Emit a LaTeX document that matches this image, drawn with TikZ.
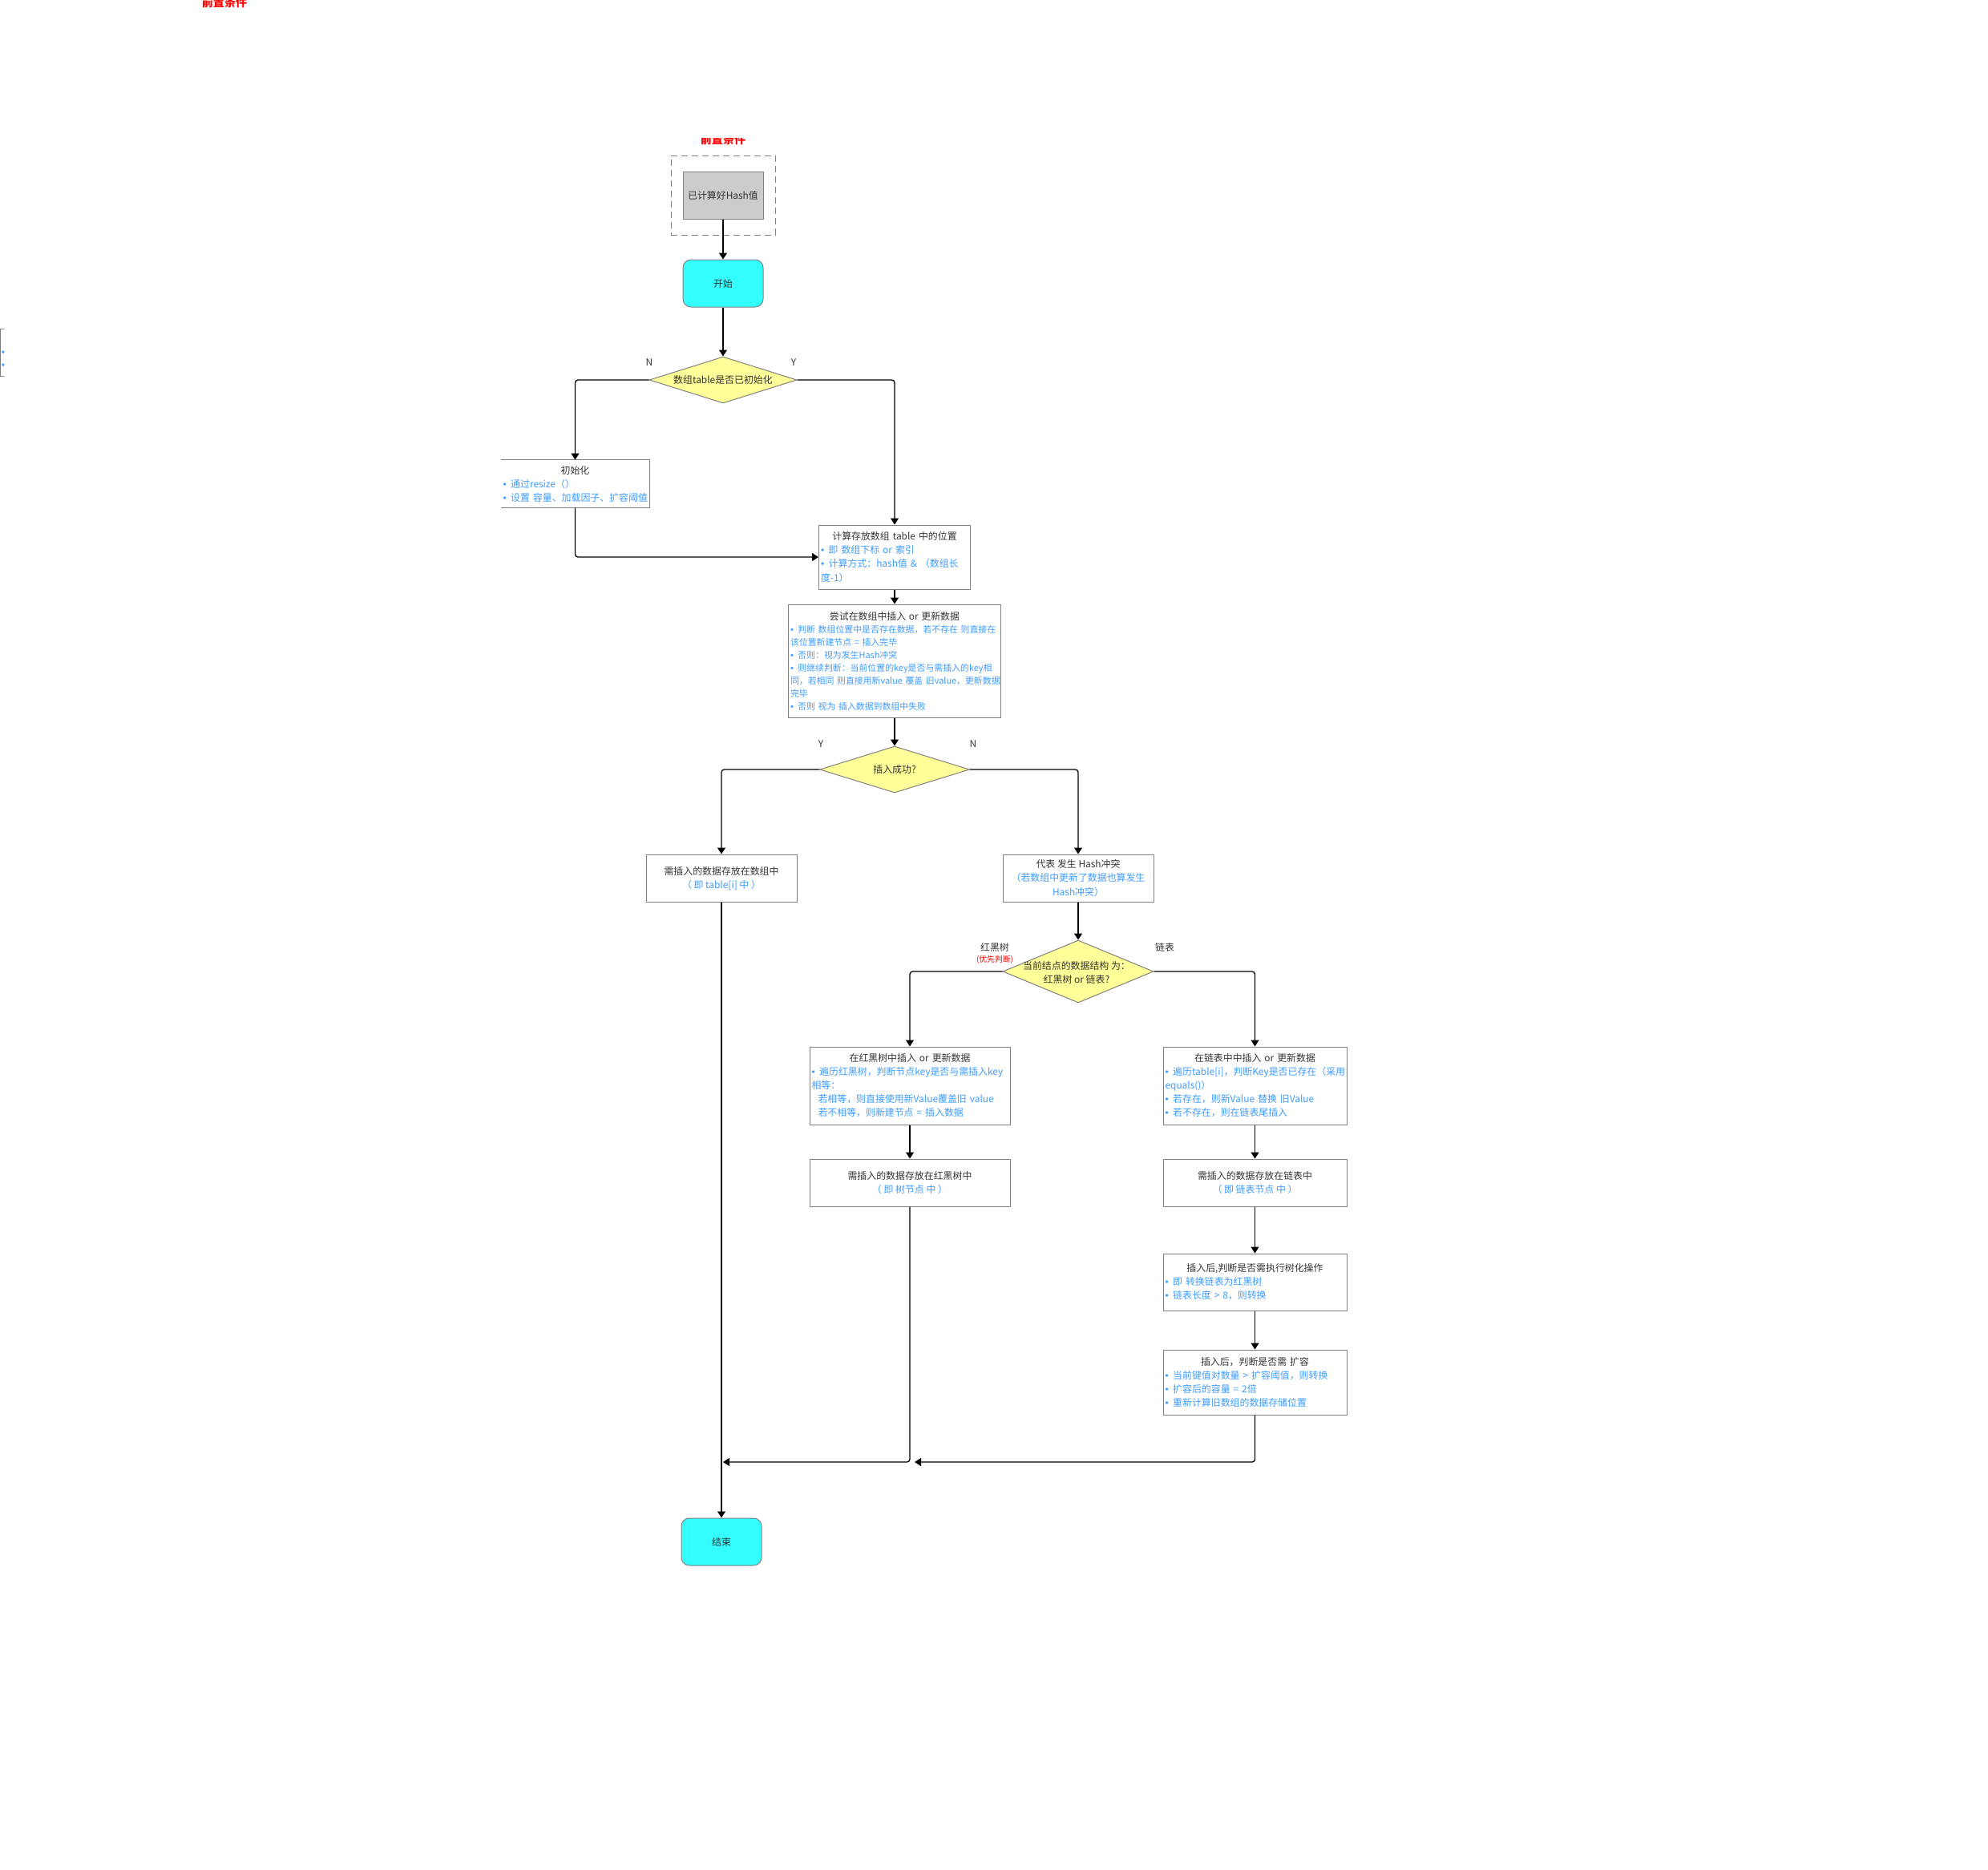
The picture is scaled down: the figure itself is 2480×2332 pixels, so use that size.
\documentclass[tikz,border=0pt]{standalone}
\usepackage{fontspec}
\setmainfont{Noto Sans CJK SC}
\newfontfamily\bulfont{Liberation Sans}
\usetikzlibrary{arrows.meta,shapes.geometric}

\definecolor{linegray}{HTML}{808080}
\definecolor{txtdark}{HTML}{333333}
\definecolor{txtblue}{HTML}{3D9BFF}
\definecolor{decfill}{HTML}{FFFF99}
\definecolor{termfill}{HTML}{33FFFF}
\definecolor{prefill}{HTML}{CCCCCC}
\definecolor{notered}{HTML}{FF0000}

% text sizes (1 unit of the drawing = 0.1 mm)
\newcommand\fsnorm{\fontsize{3.39pt}{4.84pt}\selectfont}
\newcommand\fssmall{\fontsize{3.1pt}{4.55pt}\selectfont}
% a blue bullet line and a blue continuation line, both flush left
\newcommand\bul[1]{\makebox[\hsize][l]{\textcolor{txtblue}{{\bulfont •}\hspace{0.55mm}#1}}}
\newcommand\cont[1]{\makebox[\hsize][l]{\textcolor{txtblue}{#1}}}

\begin{document}
\begin{tikzpicture}[x=0.1mm, y=-0.1mm,
  every node/.style={font=\fsnorm, text=txtdark},
  flow/.style={draw=black, line width=0.13mm, rounded corners=0.35mm,
    -{Triangle[length=0.8mm,width=1mm]}},
  procbox/.style={rectangle, draw=linegray, line width=0.1mm,
    inner xsep=0.25mm, inner ysep=0mm, align=center},
  term/.style={rectangle, rounded corners=1mm, draw=linegray, line width=0.1mm,
    fill=termfill, minimum width=10mm, minimum height=5.9mm, inner sep=0},
  decision/.style={diamond, draw=linegray, line width=0.1mm, fill=decfill, inner sep=0},
  redtitle/.style={text=notered, font=\fontsize{4pt}{4pt}\selectfont\bfseries, inner sep=0},
]
\useasboundingbox (0,0) rectangle (2480,2332);

% cut-off captions
\node[redtitle] (capA) at (280,3) {前置条件};
\begin{scope}
  \clip (840,172) rectangle (965,190);
  \node[redtitle] (capB) at (902,174) {前置条件};
\end{scope}

% fragment at the left border
\draw[linegray, line width=0.1mm] (5,410) -- (1,410) -- (1,469) -- (5,469);
\node[text=txtblue, font=\fsnorm\bulfont, inner sep=0] (fragA) at (4,441) {•};
\node[text=txtblue, font=\fsnorm\bulfont, inner sep=0] (fragB) at (4,457) {•};

% precondition
\node[procbox, dashed, dash pattern=on 0.8mm off 0.5mm, minimum width=13mm, minimum height=9.9mm] (pre) at (902,243.5) {};
\node[procbox, fill=prefill, minimum width=10mm, minimum height=5.9mm] (hashready) at (902,243.5) {已计算好Hash值};

\node[term] (start) at (902,353.5) {开始};

\node[decision, minimum width=18.4mm, minimum height=5.8mm] (d1) at (902,474) {};
\node[inner sep=0] (d1t) at (d1) {数组table是否已初始化};
\node (lN1) at (810,452) {N};
\node (lY1) at (990,452) {Y};

\node[procbox, draw=none, minimum width=18.5mm, minimum height=5.9mm, text width=18.0mm] (init) at (717.5,603.5)
  {初始化\\ \bul{通过resize（）}\\ \bul{设置 容量、加载因子、扩容阈值}};
\draw[linegray, line width=0.1mm] (init.north west) -- (init.north east) -- (init.south east) -- (init.south west);

\node[procbox, minimum width=18.9mm, minimum height=8mm, text width=18.4mm] (calc) at (1116,695)
  {计算存放数组 table 中的位置\\ \bul{即 数组下标 or 索引}\\ \bul{计算方式：hash值 \&  （数组长}\\ \cont{度-1）}};

\node[procbox, font=\fssmall, minimum width=26.5mm, minimum height=14.1mm, text width=26.0mm] (try) at (1116,824.5)
  {{\fsnorm 尝试在数组中插入 or 更新数据}\\
   \bul{判断 数组位置中是否存在数据，若不存在 则直接在}\\
   \cont{该位置新建节点 =  插入完毕}\\
   \bul{否则：视为发生Hash冲突}\\
   \bul{则继续判断：当前位置的key是否与需插入的key相}\\
   \cont{同，若相同 则直接用新value 覆盖 旧value，更新数据}\\
   \cont{完毕}\\
   \bul{否则 视为 插入数据到数组中失败}};

\node[decision, minimum width=18.7mm, minimum height=5.8mm] (d2) at (1116,960) {};
\node[inner sep=0] (d2t) at (d2) {插入成功?};
\node (lY2) at (1024,928) {Y};
\node (lN2) at (1214,928) {N};

\node[procbox, minimum width=18.8mm, minimum height=5.9mm] (inarray) at (900,1095.5)
  {需插入的数据存放在数组中\\ \textcolor{txtblue}{（ 即 table[i] 中 ）}};

\node[procbox, minimum width=18.8mm, minimum height=5.9mm] (hash) at (1345,1095.5)
  {代表 发生 Hash冲突\\ \textcolor{txtblue}{（若数组中更新了数据也算发生}\\ \textcolor{txtblue}{Hash冲突）}};

\node[decision, minimum width=18.8mm, minimum height=7.8mm] (d3) at (1345,1212) {};
\node[inner sep=0, align=center] (d3t) at (1343,1213) {当前结点的数据结构 为：\\ 红黑树 or 链表?};
\node (lRB) at (1241,1182) {红黑树};
\node[text=notered, font=\fontsize{2.8pt}{3pt}\selectfont] (lprio) at (1241,1197) {(优先判断)};
\node (lList) at (1453,1182) {链表};

\node[procbox, minimum width=25mm, minimum height=9.7mm, text width=24.5mm] (rb) at (1135,1354.5)
  {在红黑树中插入 or 更新数据\\
   \bul{遍历红黑树，判断节点key是否与需插入key}\\
   \cont{相等：}\\
   \cont{\hspace*{0.8mm}若相等，则直接使用新Value覆盖旧 value}\\
   \cont{\hspace*{0.8mm}若不相等，则新建节点 = 插入数据}};

\node[procbox, minimum width=22.9mm, minimum height=9.7mm, text width=22.4mm] (list) at (1565.5,1354.5)
  {在链表中中插入 or 更新数据\\
   \bul{遍历table[i]，判断Key是否已存在（采用}\\
   \cont{equals()）}\\
   \bul{若存在，则新Value 替换 旧Value}\\
   \bul{若不存在，则在链表尾插入}};

\node[procbox, minimum width=25mm, minimum height=5.9mm] (rbs) at (1135,1475.5)
  {需插入的数据存放在红黑树中\\ \textcolor{txtblue}{（ 即 树节点 中 ）}};
\node[procbox, minimum width=22.9mm, minimum height=5.9mm] (lists) at (1565.5,1475.5)
  {需插入的数据存放在链表中\\ \textcolor{txtblue}{（ 即 链表节点 中 ）}};

\node[procbox, minimum width=22.9mm, minimum height=7.1mm, text width=22.4mm] (tree) at (1565.5,1599.5)
  {插入后,判断是否需执行树化操作\\ \bul{即 转换链表为红黑树}\\ \bul{链表长度 > 8，则转换}};

\node[procbox, minimum width=22.9mm, minimum height=8.1mm, text width=22.4mm] (resize) at (1565.5,1724.5)
  {插入后，判断是否需 扩容\\ \bul{当前键值对数量 > 扩容阈值，则转换}\\ \bul{扩容后的容量 = 2倍}\\ \bul{重新计算旧数组的数据存储位置}};

\node[term] (finish) at (900,1923.5) {结束};

\coordinate (joinA) at (902,1824);
\coordinate (joinB) at (1141,1824);

% connectors
\draw[flow] (hashready.south) -- (start.north);
\draw[flow] (start.south) -- (d1.north);
\draw[flow] (d1.west) -| (init.north);
\draw[flow] (d1.east) -| (calc.north);
\draw[flow] (init.south) |- (calc.west);
\draw[flow] (calc.south) -- (try.north);
\draw[flow] (try.south) -- (d2.north);
\draw[flow] (d2.west) -| (inarray.north);
\draw[flow] (d2.east) -| (hash.north);
\draw[flow] (hash.south) -- (d3.north);
\draw[flow] (d3.west) -| (rb.north);
\draw[flow] (d3.east) -| (list.north);
\draw[flow] (rb.south) -- (rbs.north);
\draw[flow] (list.south) -- (lists.north);
\draw[flow] (lists.south) -- (tree.north);
\draw[flow] (tree.south) -- (resize.north);
\draw[flow] (rbs.south) |- (joinA);
\draw[flow] (resize.south) |- (joinB);
\draw[flow] (inarray.south) -- (finish.north);
\end{tikzpicture}
\end{document}
